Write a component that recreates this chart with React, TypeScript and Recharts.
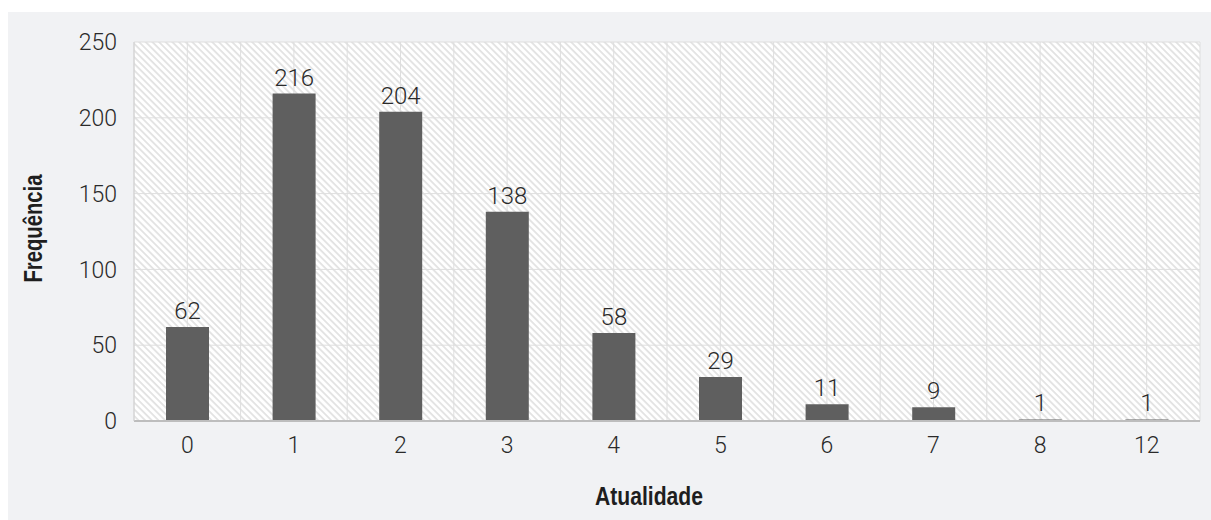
import React from "react";
import { BarChart, Bar, XAxis, YAxis, CartesianGrid, LabelList, Label } from "recharts";

const categories = ["0", "1", "2", "3", "4", "5", "6", "7", "8", "12"];
const frequencies = [62, 216, 204, 138, 58, 29, 11, 9, 1, 1];
const yTicks = [0, 50, 100, 150, 200, 250];

const data = categories.map((c, i) => ({ name: c, value: frequencies[i] }));

const TICK_FONT = "Roboto, 'Liberation Sans', sans-serif";
const TITLE_FONT = "'Liberation Sans', Arial, sans-serif";

export default function App() {
  return (
    <div
      style={{
        position: "fixed",
        left: 8,
        top: 12,
        right: 0,
        bottom: 0,
        background: "#f1f2f4",
      }}
    >
      <svg width={0} height={0} style={{ position: "absolute" }}>
        <defs>
          <pattern
            id="hatch"
            patternUnits="userSpaceOnUse"
            width={4.7}
            height={4.7}
            patternTransform="rotate(-45)"
          >
            <rect x={0} y={0} width={4.7} height={4.7} fill="#ffffff" />
            <line x1={1} y1={0} x2={1} y2={4.7} stroke="#e2e2e2" strokeWidth={1.8} />
          </pattern>
        </defs>
      </svg>
      <BarChart
        width={1203}
        height={508}
        data={data}
        margin={{ top: 30, right: 11, bottom: 69, left: 0 }}
        barCategoryGap={0}
      >
        <CartesianGrid
          fill="url(#hatch)"
          fillOpacity={1}
          stroke="#dedede"
          verticalCoordinatesGenerator={(props: any) => {
            const off = props.offset;
            const arr: number[] = [];
            for (let i = 0; i <= 20; i++) arr.push(off.left + (off.width * i) / 20);
            return arr;
          }}
        />
        <XAxis
          dataKey="name"
          height={30}
          tickLine={false}
          tickSize={0}
          tickMargin={16}
          axisLine={{ stroke: "#bdbdbd", strokeWidth: 2 }}
          tick={{ fill: "#2a2a2a", fontSize: 23, fontFamily: TICK_FONT, fontWeight: 300 }}
        >
          <Label
            content={() => (
              <text
                x={641}
                y={493}
                textAnchor="middle"
                fill="#1e1e1e"
                fontSize={26}
                fontWeight="bold"
                fontFamily={TITLE_FONT}
                textLength={108}
                lengthAdjust="spacingAndGlyphs"
              >
                Atualidade
              </text>
            )}
          />
        </XAxis>
        <YAxis
          width={126}
          domain={[0, 250]}
          ticks={yTicks}
          interval={0}
          tickLine={false}
          tickSize={0}
          tickMargin={17}
          axisLine={{ stroke: "#d0d0d0" }}
          tick={{ fill: "#2a2a2a", fontSize: 23, fontFamily: TICK_FONT, fontWeight: 300 }}
        >
          <Label
            content={(p: any) => {
              const vb = p.viewBox;
              const cy = vb.y + vb.height / 2 - 3;
              const x = 34;
              return (
                <text
                  x={x}
                  y={cy}
                  transform={`rotate(-90, ${x}, ${cy})`}
                  textAnchor="middle"
                  fill="#1e1e1e"
                  fontSize={26}
                  fontWeight="bold"
                  fontFamily={TITLE_FONT}
                  textLength={108}
                  lengthAdjust="spacingAndGlyphs"
                >
                  Frequência
                </text>
              );
            }}
          />
        </YAxis>
        <Bar dataKey="value" fill="#5f5f5f" barSize={43} isAnimationActive={false}>
          <LabelList
            dataKey="value"
            position="top"
            offset={8}
            fill="#2a2a2a"
            fontSize={24}
            fontFamily={TICK_FONT}
            fontWeight={300}
          />
        </Bar>
      </BarChart>
    </div>
  );
}
